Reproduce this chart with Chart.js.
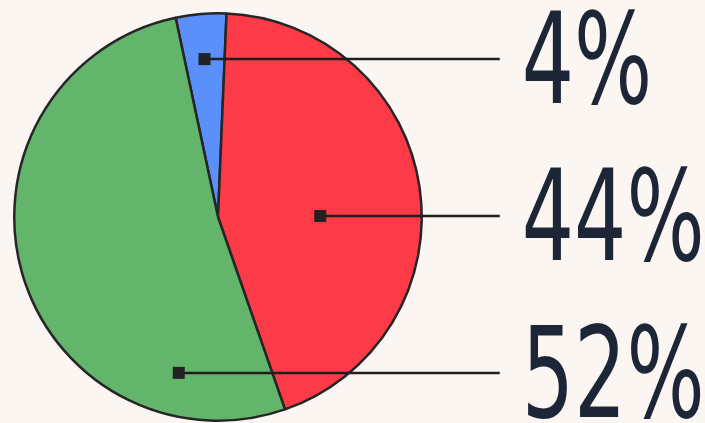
<!DOCTYPE html>
<html lang="en">
<head>
<meta charset="UTF-8">
<title>Share pie</title>
<style>
  html, body { margin: 0; padding: 0; background: #fcf6f3; }
  #wrap { width: 705px; height: 423px; }
</style>
<script src="https://cdn.jsdelivr.net/npm/chart.js"></script>
</head>
<body>
<div id="wrap"><canvas id="pie"></canvas></div>
<script>
const categories = ['Blue', 'Red', 'Green'];
const shares = [4, 44, 52];
const labelTexts = ['4%', '44%', '52%'];
const sliceColors = ['#5b8ff9', '#fd3a47', '#62b56b'];

// leader lines + markers + big percentage labels
const calloutPlugin = {
  id: 'callouts',
  afterDatasetsDraw(chart) {
    const ctx = chart.ctx;
    const arcs = chart.getDatasetMeta(0).data;
    const cx = arcs[0].x, cy = arcs[0].y, r = arcs[0].outerRadius;
    const lineEnd = cx + r + 78;
    ctx.save();
    arcs.forEach((arc, i) => {
      const y = cy + (i - 1) * 0.77 * r - 1;
      // middle of the slice's horizontal chord at the label height
      let minX = null, maxX = null;
      for (let x = cx - r; x <= cx + r; x += 0.5) {
        if (arc.inRange(x, y)) {
          if (minX === null) minX = x;
          maxX = x;
        }
      }
      const mx = (minX + maxX) / 2;
      ctx.strokeStyle = '#1f1f1f';
      ctx.lineWidth = 2.5;
      ctx.beginPath();
      ctx.moveTo(mx, y);
      ctx.lineTo(lineEnd, y);
      ctx.stroke();
      ctx.fillStyle = '#222222';
      ctx.fillRect(mx - 6, y - 6, 12, 12);

      ctx.save();
      ctx.translate(lineEnd + 22, y);
      ctx.scale(0.72, 1);
      ctx.fillStyle = '#1c2637';
      ctx.font = '127px "DejaVu Sans Condensed", "Liberation Sans Narrow", sans-serif';
      ctx.textAlign = 'left';
      ctx.textBaseline = 'alphabetic';
      ctx.fillText(labelTexts[i], 0, 44);
      ctx.restore();
    });
    ctx.restore();
  }
};

new Chart(document.getElementById('pie'), {
  type: 'pie',
  data: {
    labels: categories,
    datasets: [{
      data: shares,
      backgroundColor: sliceColors,
      borderColor: '#262626',
      borderWidth: 2.5,
      hoverOffset: 0
    }]
  },
  options: {
    responsive: true,
    maintainAspectRatio: false,
    animation: false,
    rotation: -12,
    layout: { padding: { left: 13, right: 282, top: 12, bottom: 1 } },
    plugins: {
      legend: { display: false },
      tooltip: { enabled: false }
    }
  },
  plugins: [calloutPlugin]
});
</script>
</body>
</html>
